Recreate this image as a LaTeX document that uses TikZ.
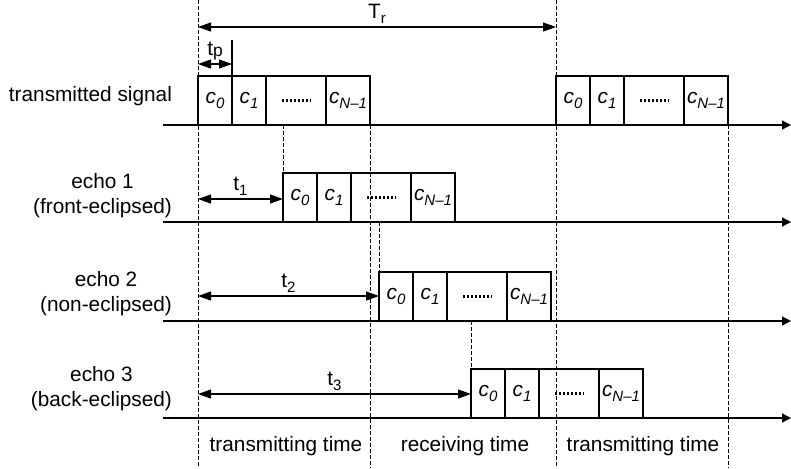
\documentclass[tikz,border=0pt]{standalone}
\usepackage{fontspec}
\setmainfont{Liberation Sans}
\usetikzlibrary{arrows.meta}

\tikzset{
  chip/.style={draw, line width=0.6pt, minimum height=24.5pt, inner sep=0pt, outer sep=0pt, anchor=south west},
  axis/.style={line width=0.7pt, -{Triangle[length=4.5pt,width=4.5pt]}},
  guide/.style={line width=0.45pt, dash pattern=on 2pt off 1pt},
  span/.style={line width=0.55pt, {Triangle[length=6.5pt,width=4.5pt]}-{Triangle[length=6.5pt,width=4.5pt]}},
  ellip/.style={line width=1.2pt, dash pattern=on 1.2pt off 0.8pt},
  lab/.style={inner sep=1.5pt},
}

% lowered index in a smaller size
\newcommand{\lowidx}[1]{\raisebox{-2.3pt}{\fontsize{7.5}{8}\selectfont #1}}

% one code sequence c_0 ... c_{N-1} standing on a time axis
\newcommand{\codeword}[3]{%
  \node[chip, minimum width=17pt] (#1a) at (#2,#3) {\textit{c\lowidx{0}}};
  \node[chip, minimum width=17pt] (#1b) at (#1a.south east) {\textit{c\lowidx{1}}};
  \node[chip, minimum width=30pt] (#1c) at (#1b.south east) {};
  \node[chip, minimum width=22pt] (#1d) at (#1c.south east) {\textit{c\lowidx{N--1}}};
  \draw[ellip] ([xshift=-7pt]#1c.center) -- ([xshift=7.5pt]#1c.center);
}

\begin{document}
\begin{tikzpicture}[x=0.5pt, y=-0.5pt, font=\fontsize{10.4}{12.5}\selectfont]
  \useasboundingbox (0,0) rectangle (791,468);
  % time axes
  \coordinate (ax0) at (163,125); \coordinate (ax1) at (163,222);
  \coordinate (ax2) at (163,321); \coordinate (ax3) at (163,418);
  \foreach \a in {ax0,ax1,ax2,ax3}
    \draw[axis] (\a) -- (\a -| 791,0);

  % code sequences
  \codeword{tx}{198}{125}
  \codeword{rp}{556}{125}
  \codeword{eA}{283}{222}
  \codeword{eB}{379}{321}
  \codeword{eC}{471}{418}

  % dashed time marks
  \coordinate (top0) at (198,0); \coordinate (bot0) at (198,468);
  \coordinate (top1) at (556,0); \coordinate (bot1) at (556,468);
  \draw[guide] (top0) -- (bot0);
  \draw[guide] (top1) -- (bot1);
  \draw[guide] (txd.south east) -- (txd.south east |- bot0);
  \draw[guide] (rpd.south east) -- (rpd.south east |- bot0);
  \draw[guide] (eAa.north west |- ax0) -- (eAa.north west);
  \draw[guide] (eBa.north west |- ax1) -- (eBa.north west);
  \draw[guide] (eCa.north west |- ax2) -- (eCa.north west);

  % periods and delays
  \coordinate (trs) at (198,27);
  \draw[span] (trs) -- (trs -| top1) node[midway, above, lab] (Tr) {T\lowidx{r}};
  \coordinate (tps) at (198,64);
  \draw[span] (tps) -- (tps -| txb.west) node[midway, above, lab] (tp) {t\raisebox{-0.8pt}{\fontsize{8.7}{9}\selectfont p}};
  \draw[line width=0.55pt] (txb.north west) -- ++(0,-36);
  \coordinate (t1s) at (198,199);
  \draw[span] (t1s) -- (t1s -| eAa.west) node[midway, above, lab] (t1) {t\lowidx{1}};
  \coordinate (t2s) at (198,296);
  \draw[span] (t2s) -- (t2s -| eBa.west) node[midway, above, lab] (t2) {t\lowidx{2}};
  \coordinate (t3s) at (198,394);
  \draw[span] (t3s) -- (t3s -| eCa.west) node[midway, above, lab] (t3) {t\lowidx{3}};

  % row labels
  \node[anchor=east] (ltx) at (179,96) {transmitted signal};
  \node[anchor=east, align=center] (leA) at (179,196) {echo 1\\(front-eclipsed)};
  \node[anchor=east, align=center] (leB) at (179,294) {echo 2\\(non-eclipsed)};
  \node[anchor=east, align=center] (leC) at (179,389) {echo 3\\(back-eclipsed)};

  % time windows
  \node (w1) at (286,446) {transmitting time};
  \node (w2) at (465,446) {receiving time};
  \node (w3) at (643,446) {transmitting time};
\end{tikzpicture}
\end{document}
